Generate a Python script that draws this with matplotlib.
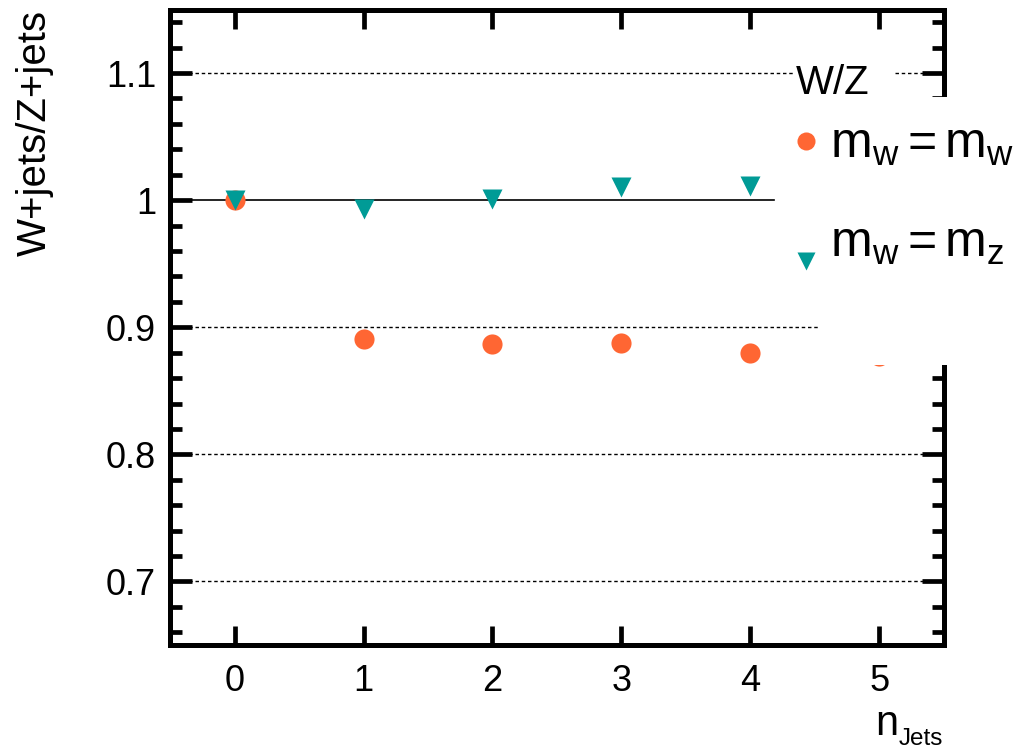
import numpy as np
import matplotlib
matplotlib.use("Agg")
import matplotlib.pyplot as plt
from matplotlib.patches import Rectangle
from matplotlib.lines import Line2D
from matplotlib.ticker import MultipleLocator

plt.rcParams['font.family'] = ['Liberation Sans', 'DejaVu Sans']
plt.rcParams['mathtext.fontset'] = 'custom'
plt.rcParams['mathtext.rm'] = 'Liberation Sans'
plt.rcParams['mathtext.it'] = 'Liberation Sans'

# data
n_jets = [0, 1, 2, 3, 4, 5]
ratio_mw = [1.000, 0.891, 0.887, 0.888, 0.880, 0.877]
ratio_mz = [1.000, 0.993, 1.001, 1.010, 1.011, 1.011]
ytick_vals = [0.7, 0.8, 0.9, 1.0, 1.1]
ytick_labels = ['0.7', '0.8', '0.9', '1', '1.1']
grid_vals = [0.7, 0.8, 0.9, 1.1]

orange = '#ff6633'
teal = '#009b96'

W, H = 1017, 751
fig = plt.figure(figsize=(W / 100, H / 100), dpi=100)


def fx(px):
    return px / W


def fy(py):
    return 1 - py / H


ax = fig.add_axes([fx(170), fy(645), fx(944 - 170), (645 - 9.5) / H])
ax.set_xlim(-0.5, 5.5)
ax.set_ylim(0.65, 1.15)

for g in grid_vals:
    ax.axhline(g, color='black', lw=1.0, ls=(0, (2.5, 2)), zorder=1)
ax.axhline(1.0, xmax=0.78, color='black', lw=1.2, zorder=1)

ax.plot(n_jets, ratio_mw, 'o', color=orange, ms=14.5, mec='none', zorder=3)
ax.plot(n_jets, ratio_mz, 'v', color=teal, ms=15, mec='none', zorder=4)

ax.set_xticks(n_jets)
ax.set_xticklabels([str(n) for n in n_jets])
ax.set_yticks(ytick_vals)
ax.set_yticklabels(ytick_labels)
ax.yaxis.set_minor_locator(MultipleLocator(0.02))

for s in ax.spines.values():
    s.set_linewidth(3.6)
ax.tick_params(axis='both', which='both', direction='in', top=True, right=True,
               width=3.4, labelsize=26, colors='black')
ax.tick_params(axis='y', which='major', length=16, pad=10)
ax.tick_params(axis='y', which='minor', length=8.5)
ax.tick_params(axis='x', which='major', length=13.5, pad=14)

# axis titles (ROOT style placement)
fig.text(fx(35), fy(10), 'W+jets/Z+jets', rotation=90, ha='center', va='top',
         fontsize=29)
fig.text(fx(898), fy(735), 'n', ha='right', va='baseline', fontsize=30)
fig.text(fx(899), fy(745), 'Jets', ha='left', va='baseline', fontsize=17.5)

# legend box
fig.patches.append(Rectangle((fx(820), fy(365)), fx(W - 820), (365 - 97) / H,
                             transform=fig.transFigure, facecolor='white',
                             edgecolor='none', zorder=5))
fig.patches.append(Rectangle((fx(793), fy(97)), fx(100), 40 / H,
                             transform=fig.transFigure, facecolor='white',
                             edgecolor='none', zorder=5))
fig.text(fx(796), fy(94), 'W/Z', ha='left', va='baseline', fontsize=29, zorder=6)
fig.lines.append(Line2D([fx(806)], [fy(141)], marker='o', color=orange, ms=13,
                        mec='none', transform=fig.transFigure, zorder=6))
fig.lines.append(Line2D([fx(806)], [fy(261)], marker='v', color=teal, ms=13,
                        mec='none', transform=fig.transFigure, zorder=6))
fig.text(fx(830), fy(158), r'$\mathrm{m_w=m_w}$', ha='left', va='baseline',
         fontsize=36, zorder=6)
fig.text(fx(830), fy(257), r'$\mathrm{m_w=m_z}$', ha='left', va='baseline',
         fontsize=36, zorder=6)

fig.savefig('out.png', dpi=100)
